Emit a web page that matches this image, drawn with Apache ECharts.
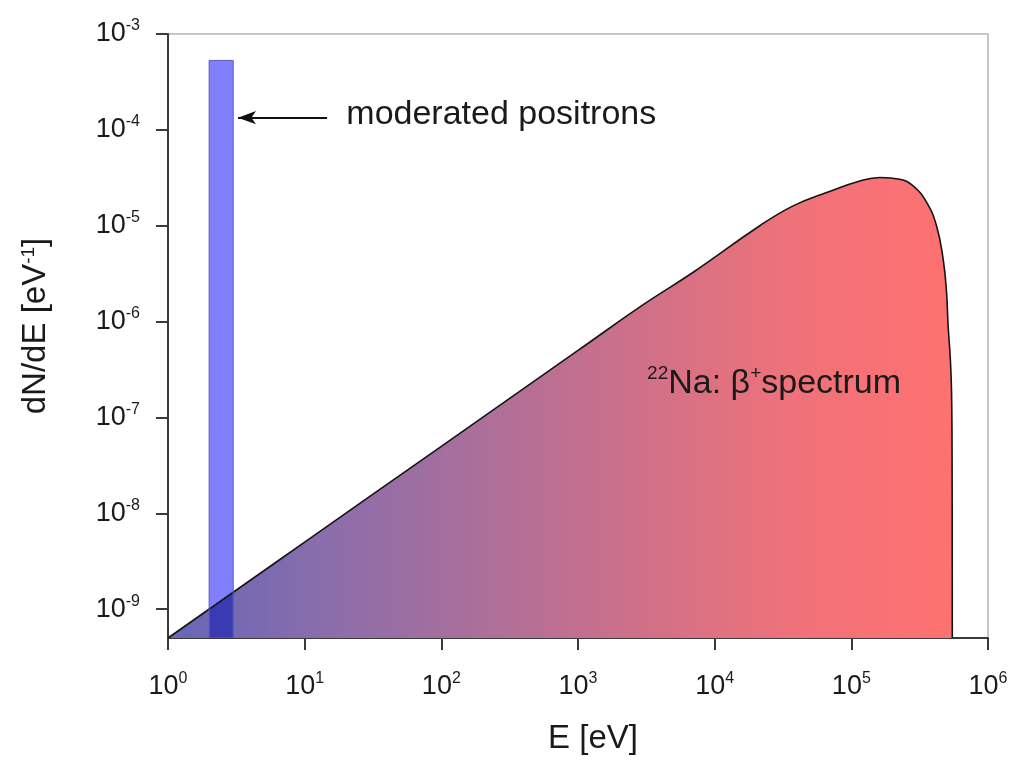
<!DOCTYPE html>
<html>
<head>
<meta charset="utf-8">
<title>22Na positron spectrum</title>
<script src="https://cdn.jsdelivr.net/npm/echarts@6/dist/echarts.min.js"></script>
<style>
  html, body { margin: 0; padding: 0; background: #fff; }
  #chart { width: 1017px; height: 760px; }
</style>
</head>
<body>
<div id="chart"></div>
<script>
// Beta+ spectrum of 22Na: energy [eV] and dN/dE [1/eV]
const energyEv = [1, 10, 100, 1000, 3000, 6966, 21400, 37500, 65900, 115400, 161700,
  226300, 283300, 354900, 420000, 469500, 497000, 510600, 530000, 541000, 546000, 548000];
const dNdE = [5e-10, 5e-9, 5e-8, 5e-7, 1.5e-6, 3.27e-6, 1.0e-5, 1.61e-5, 2.22e-5, 2.92e-5, 3.18e-5,
  3.05e-5, 2.60e-5, 1.76e-5, 9.98e-6, 4.5e-6, 2.05e-6, 9.1e-7, 4.1e-7, 1.87e-7, 3.77e-8, 5e-10];

// Moderated positrons: energy window [eV] and height [1/eV]
const moderatedFrom = [2];
const moderatedTo = [3];
const moderatedValue = [5.3e-4];

// Axis ranges and tick values
const xTicks = [1, 10, 100, 1000, 10000, 100000, 1000000];
const yTicks = [1e-9, 1e-8, 1e-7, 1e-6, 1e-5, 1e-4, 1e-3];
const yRange = [5e-10, 1e-3];

const FONT = '"Liberation Sans", Arial, sans-serif';
const INK = '#1a1a1a';

const spectrumData = energyEv.map((e, i) => [e, dNdE[i]]);
const moderatedData = moderatedFrom.map((f, i) => [f, moderatedTo[i], moderatedValue[i]]);

function powLabel(v) {
  const e = Math.round(Math.log10(v));
  if (Math.abs(Math.log10(v) - e) > 1e-6) return '';
  return '{b|10}{s|' + e + '}';
}

const tickRich = {
  b: { fontSize: 27, fontFamily: FONT, color: INK, lineHeight: 32 },
  s: { fontSize: 16, fontFamily: FONT, color: INK, lineHeight: 16, verticalAlign: 'top' }
};

// Pixel height of the spectrum outline at a given pixel x (walks the projected data points)
function spectrumPixelY(api, px) {
  for (let i = 0; i < spectrumData.length - 1; i++) {
    const p = api.coord(spectrumData[i]);
    const q = api.coord(spectrumData[i + 1]);
    if (p[0] <= px && px <= q[0]) {
      return p[1] + (q[1] - p[1]) * (px - p[0]) / (q[0] - p[0]);
    }
  }
  return null;
}

const chart = echarts.init(document.getElementById('chart'), null, { renderer: 'canvas' });

chart.setOption({
  animation: false,
  backgroundColor: '#ffffff',
  grid: {
    left: 168, right: 29, top: 34, bottom: 119,
    show: true, borderColor: '#b4b4b4', borderWidth: 1.5, backgroundColor: 'transparent'
  },
  xAxis: {
    type: 'log', logBase: 10, min: xTicks[0], max: xTicks[xTicks.length - 1],
    name: 'E [eV]', nameLocation: 'middle', nameGap: 84,
    nameTextStyle: { fontSize: 33, fontFamily: FONT, color: INK, padding: [0, 0, 0, 30] },
    axisLine: { show: true, onZero: false, lineStyle: { color: '#3a3a3a', width: 2 } },
    axisTick: { show: true, inside: false, length: 12, customValues: xTicks,
      lineStyle: { color: '#3a3a3a', width: 2 } },
    minorTick: { show: false },
    splitLine: { show: false },
    axisLabel: { margin: 33, customValues: xTicks, formatter: powLabel, rich: tickRich,
      showMinLabel: true, showMaxLabel: true }
  },
  yAxis: {
    type: 'log', logBase: 10, min: yRange[0], max: yRange[1],
    name: 'dN/dE [eV{s|-1}]', nameLocation: 'middle', nameGap: 116, nameRotate: 90,
    nameTextStyle: {
      fontSize: 33, fontFamily: FONT, color: INK, padding: [0, 0, 0, 20],
      rich: { s: { fontSize: 19, fontFamily: FONT, color: INK, verticalAlign: 'top', lineHeight: 19 } }
    },
    axisLine: { show: true, onZero: false, lineStyle: { color: '#3a3a3a', width: 2 } },
    axisTick: { show: true, inside: false, length: 12, customValues: yTicks,
      lineStyle: { color: '#3a3a3a', width: 2 } },
    minorTick: { show: false },
    splitLine: { show: false },
    axisLabel: { margin: 28, customValues: yTicks, formatter: powLabel, rich: tickRich }
  },
  series: [
    {
      name: '22Na beta+ spectrum',
      type: 'line',
      data: spectrumData,
      showSymbol: false,
      smooth: 0.45,
      clip: true,
      z: 2,
      lineStyle: { color: '#151515', width: 1.6 },
      areaStyle: {
        origin: 'start',
        opacity: 1,
        color: new echarts.graphic.LinearGradient(0, 0, 1, 0, [
          { offset: 0.0, color: '#6666b9' },
          { offset: 0.2, color: '#8a6dab' },
          { offset: 0.4, color: '#ac6f9a' },
          { offset: 0.6, color: '#cf7088' },
          { offset: 0.8, color: '#ef7279' },
          { offset: 1.0, color: '#ff7171' }
        ])
      },
      emphasis: { disabled: true },
      markLine: {
        silent: true,
        symbol: ['none', 'arrow'],
        symbolSize: [10, 18],
        label: { show: false },
        lineStyle: { color: '#111', width: 2.2, type: 'solid' },
        data: [[
          { coord: [14.6, 1.34e-4] },
          { coord: [3.25, 1.34e-4] }
        ]]
      },
      markPoint: {
        silent: true,
        symbol: 'rect',
        symbolSize: 1,
        itemStyle: { color: 'rgba(0,0,0,0)' },
        data: [
          {
            coord: [20, 1.44e-4],
            label: {
              show: true, position: 'right', distance: 0,
              formatter: 'moderated positrons',
              fontSize: 34, fontFamily: FONT, color: INK
            }
          },
          {
            coord: [3177, 2.26e-7],
            label: {
              show: true, position: 'right', distance: 0,
              formatter: '{s|22}{b|Na: β}{s|+}{b|spectrum}',
              rich: {
                b: { fontSize: 34, fontFamily: FONT, color: INK, lineHeight: 38 },
                s: { fontSize: 19, fontFamily: FONT, color: INK, lineHeight: 19, verticalAlign: 'top' }
              }
            }
          }
        ]
      }
    },
    {
      name: 'moderated positrons',
      type: 'custom',
      data: moderatedData,
      encode: { x: [0, 1], y: 2 },
      z: 3,
      clip: true,
      renderItem: function (params, api) {
        const top = api.value(2);
        const a = api.coord([api.value(0), top]);
        const b = api.coord([api.value(1), top]);
        const bottom = params.coordSys.y + params.coordSys.height;
        const children = [{
          type: 'rect',
          shape: { x: a[0], y: a[1], width: b[0] - a[0], height: bottom - a[1] },
          style: { fill: '#8080ff' }
        }];
        const ya = spectrumPixelY(api, a[0]);
        const yb = spectrumPixelY(api, b[0]);
        if (ya !== null && yb !== null) {
          // part of the window lying under the spectrum is shaded darker
          children.push({
            type: 'polygon',
            shape: { points: [[a[0], bottom], [a[0], ya], [b[0], yb], [b[0], bottom]] },
            style: { fill: '#3a3ab2' }
          });
          children.push({
            type: 'line',
            shape: { x1: a[0], y1: ya, x2: b[0], y2: yb },
            style: { stroke: '#151515', lineWidth: 1.6 }
          });
        }
        children.push({
          type: 'rect',
          shape: { x: a[0], y: a[1], width: b[0] - a[0], height: bottom - a[1] },
          style: { fill: 'none', stroke: '#5a5ac4', lineWidth: 1 }
        });
        return { type: 'group', children: children };
      }
    }
  ]
});
</script>
</body>
</html>
